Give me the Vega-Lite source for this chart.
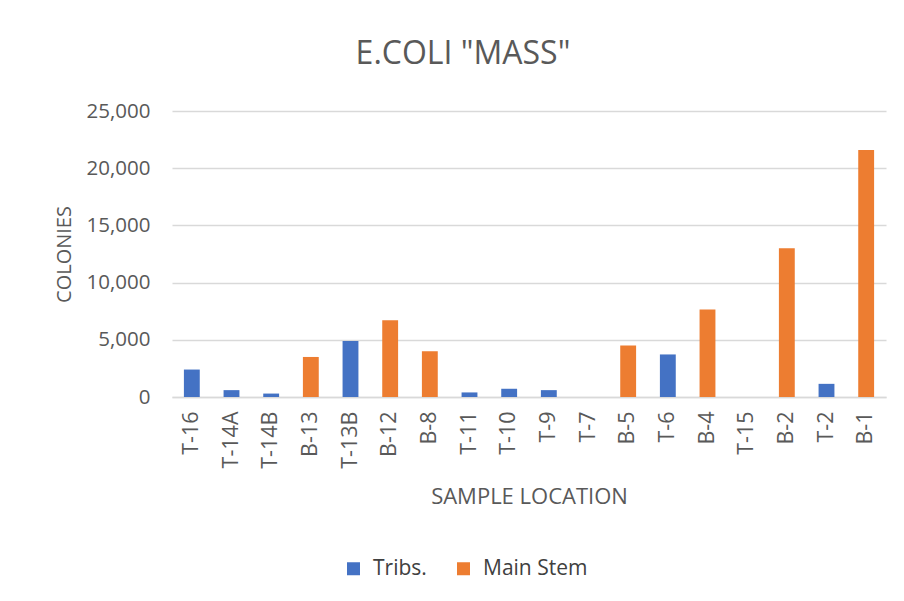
{
  "$schema": "https://vega.github.io/schema/vega-lite/v6.json",
  "width": 714,
  "height": 286,
  "autosize": {"type": "none"},
  "padding": {"left": 172, "top": 111, "right": 18, "bottom": 204},
  "background": "white",
  "title": {
    "text": "E.COLI \"MASS\"",
    "font": "Open Sans",
    "fontSize": 32,
    "fontWeight": "normal",
    "color": "#595959",
    "anchor": "middle",
    "dx": -66,
    "offset": 30
  },
  "data": {
    "values": [
      {"location": "T-16", "colonies": 2400, "series": "Tribs."},
      {"location": "T-14A", "colonies": 600, "series": "Tribs."},
      {"location": "T-14B", "colonies": 300, "series": "Tribs."},
      {"location": "B-13", "colonies": 3500, "series": "Main Stem"},
      {"location": "T-13B", "colonies": 4900, "series": "Tribs."},
      {"location": "B-12", "colonies": 6700, "series": "Main Stem"},
      {"location": "B-8", "colonies": 4000, "series": "Main Stem"},
      {"location": "T-11", "colonies": 400, "series": "Tribs."},
      {"location": "T-10", "colonies": 720, "series": "Tribs."},
      {"location": "T-9", "colonies": 600, "series": "Tribs."},
      {"location": "T-7", "colonies": 0, "series": "Tribs."},
      {"location": "B-5", "colonies": 4500, "series": "Main Stem"},
      {"location": "T-6", "colonies": 3720, "series": "Tribs."},
      {"location": "B-4", "colonies": 7650, "series": "Main Stem"},
      {"location": "T-15", "colonies": 0, "series": "Tribs."},
      {"location": "B-2", "colonies": 13000, "series": "Main Stem"},
      {"location": "T-2", "colonies": 1150, "series": "Tribs."},
      {"location": "B-1", "colonies": 21600, "series": "Main Stem"}
    ]
  },
  "mark": {"type": "bar"},
  "encoding": {
    "x": {
      "field": "location",
      "type": "nominal",
      "sort": null,
      "scale": {"paddingInner": 0.6, "paddingOuter": 0.3},
      "axis": {
        "title": "SAMPLE LOCATION",
        "labelAngle": -90,
        "labelFontSize": 21.5,
        "labelColor": "#595959",
        "labelFont": "Open Sans",
        "labelPadding": 14,
        "ticks": false,
        "domain": true,
        "domainColor": "#d9d9d9",
        "domainWidth": 1.5,
        "titleFont": "Open Sans",
        "titleFontSize": 22,
        "titleFontWeight": "normal",
        "titleColor": "#595959",
        "titlePadding": 18
      }
    },
    "y": {
      "field": "colonies",
      "type": "quantitative",
      "scale": {"domain": [0, 25000]},
      "axis": {
        "title": "COLONIES",
        "values": [0, 5000, 10000, 15000, 20000, 25000],
        "format": ",.0f",
        "labelFontSize": 20.5,
        "labelColor": "#595959",
        "labelFont": "Open Sans",
        "labelPadding": 22,
        "ticks": false,
        "domain": false,
        "grid": true,
        "gridColor": "#d9d9d9",
        "gridWidth": 1.5,
        "titleFont": "Open Sans",
        "titleFontSize": 20,
        "titleFontWeight": "normal",
        "titleColor": "#595959",
        "titlePadding": 12
      }
    },
    "color": {
      "field": "series",
      "type": "nominal",
      "scale": {"domain": ["Tribs.", "Main Stem"], "range": ["#4472C4", "#ED7D31"]},
      "legend": {
        "title": null,
        "orient": "none",
        "direction": "horizontal",
        "legendX": 171,
        "legendY": 447,
        "padding": 0,
        "symbolType": "square",
        "symbolSize": 169,
        "symbolStrokeWidth": 0,
        "labelFont": "Open Sans",
        "labelFontSize": 21,
        "labelColor": "#404040",
        "labelOffset": 9,
        "columnPadding": 26
      }
    }
  },
  "config": {
    "view": {"stroke": null}
  }
}
